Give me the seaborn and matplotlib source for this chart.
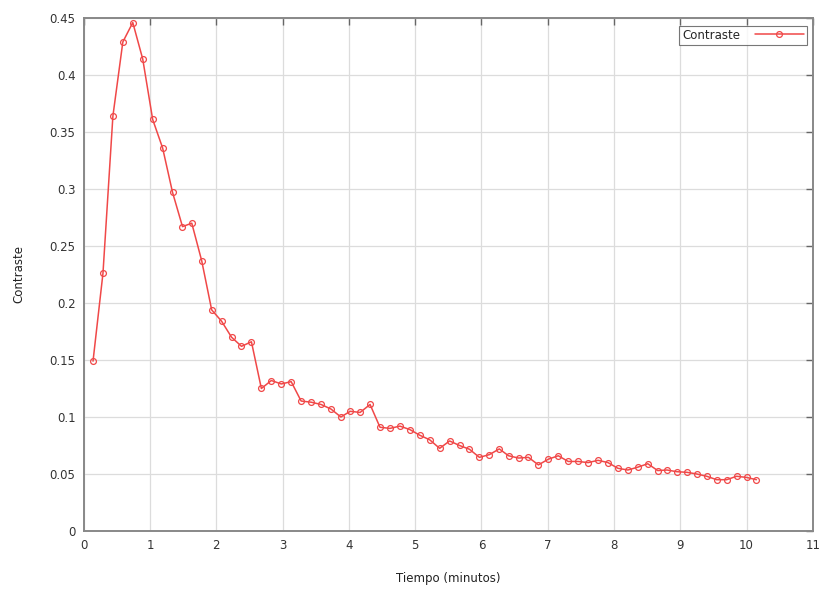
import matplotlib
matplotlib.use("Agg")
import matplotlib.pyplot as plt
import seaborn as sns
import pandas as pd

tiempo = [0.14, 0.29, 0.44, 0.59, 0.74, 0.89, 1.04, 1.19, 1.34, 1.49,
          1.63, 1.78, 1.93, 2.08, 2.23, 2.38, 2.53, 2.68, 2.83, 2.98,
          3.13, 3.28, 3.43, 3.58, 3.73, 3.88, 4.02, 4.17, 4.32, 4.47,
          4.62, 4.77, 4.92, 5.07, 5.22, 5.37, 5.52, 5.67, 5.82, 5.97,
          6.12, 6.27, 6.41, 6.56, 6.71, 6.86, 7.01, 7.16, 7.31, 7.46,
          7.61, 7.76, 7.91, 8.06, 8.21, 8.36, 8.51, 8.66, 8.80, 8.95,
          9.10, 9.25, 9.40, 9.55, 9.70, 9.85, 10.00, 10.15]
contraste = [0.149, 0.226, 0.364, 0.429, 0.446, 0.414, 0.361, 0.336, 0.297, 0.267,
             0.270, 0.237, 0.194, 0.184, 0.170, 0.162, 0.166, 0.125, 0.132, 0.129,
             0.131, 0.114, 0.113, 0.111, 0.107, 0.100, 0.105, 0.104, 0.111, 0.091,
             0.090, 0.092, 0.089, 0.084, 0.080, 0.0725, 0.079, 0.075, 0.0717, 0.0646,
             0.067, 0.072, 0.066, 0.064, 0.0646, 0.058, 0.063, 0.066, 0.061, 0.061,
             0.060, 0.062, 0.060, 0.055, 0.0535, 0.056, 0.059, 0.053, 0.0535, 0.052,
             0.0515, 0.050, 0.048, 0.045, 0.045, 0.048, 0.047, 0.045]

xticks = list(range(0, 12))
yticks = [0, 0.05, 0.1, 0.15, 0.2, 0.25, 0.3, 0.35, 0.4, 0.45]
ytick_labels = ["0", "0.05", "0.1", "0.15", "0.2", "0.25", "0.3", "0.35", "0.4", "0.45"]

sns.set_style("white")
plt.rcParams['font.family'] = ['DejaVu Sans']

df = pd.DataFrame({"Tiempo": tiempo, "Contraste": contraste})

fig = plt.figure(figsize=(8.21, 5.90), dpi=100)
ax = fig.add_axes([0.102, 0.100, 0.888, 0.8695])

red = "#f04848"
sns.lineplot(data=df, x="Tiempo", y="Contraste", ax=ax, color=red, linewidth=1.1,
             marker="o", markersize=4.2, markerfacecolor="none",
             markeredgecolor=red, markeredgewidth=0.9, label="Contraste")

ax.set_xlim(0, 11)
ax.set_ylim(0, 0.45)
ax.set_xticks(xticks)
ax.set_xticklabels([str(t) for t in xticks])
ax.set_yticks(yticks)
ax.set_yticklabels(ytick_labels)
ax.grid(True, color="#dcdcdc", linewidth=0.9)
ax.set_axisbelow(True)

for s in ax.spines.values():
    s.set_color("#888888")
    s.set_linewidth(1.4)

ax.tick_params(axis="both", direction="in", length=5, width=1, color="#666666",
               labelsize=8.5, labelcolor="#333333", top=True, right=True, pad=6)

ax.set_xlabel("Tiempo (minutos)", fontsize=8.5, color="#222222", labelpad=14)
ax.set_ylabel("Contraste", fontsize=8.5, color="#222222", labelpad=17)

leg = ax.legend(loc="upper right", markerfirst=False, fontsize=8.5, frameon=True,
                fancybox=False, handlelength=4.2, handletextpad=1.2,
                borderpad=0.25, borderaxespad=0.3,
                bbox_to_anchor=(0.997, 0.992))
leg.get_frame().set_edgecolor("#555555")
leg.get_frame().set_linewidth(0.8)

fig.savefig("out.png", dpi=100)
